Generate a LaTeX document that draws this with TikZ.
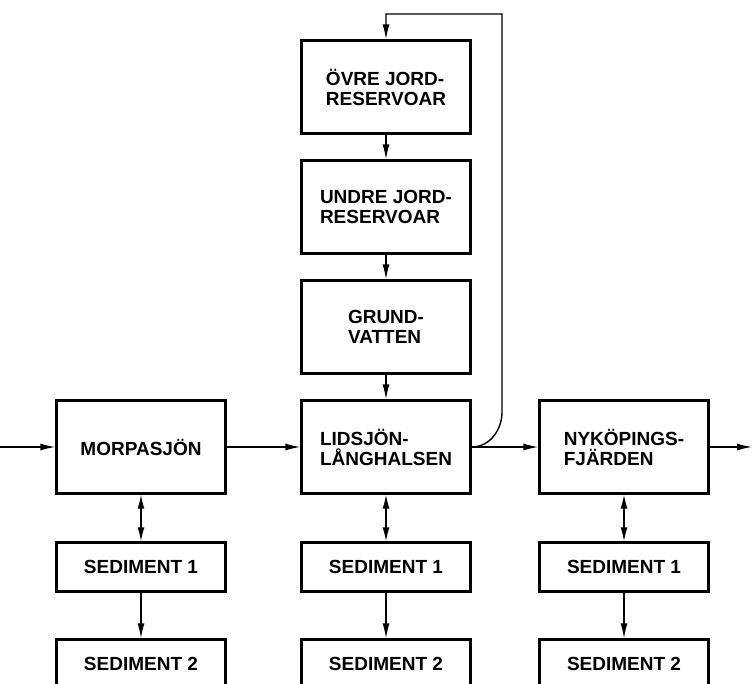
\documentclass[tikz,border=0pt]{standalone}
\usepackage{fontspec}
\setmainfont{Liberation Sans}
\usepackage{xcolor}
\usepackage{tikz}
\usetikzlibrary{arrows.meta}

\begin{document}
\begin{tikzpicture}[x=1pt, y=-1pt,
    every node/.style={font=\fontsize{19}{20}\selectfont\bfseries, align=left},
    box/.style={draw, line width=2.2pt, minimum width=169pt, minimum height=93pt},
    sedbox/.style={draw, line width=2.2pt, minimum width=169pt, minimum height=49pt},
    pil/.style={line width=1.4pt, -{Latex[length=15pt, width=7pt]}},
    dpil/.style={line width=1.4pt, {Latex[length=14pt, width=7pt]}-{Latex[length=14pt, width=7pt]}}]

    \clip (0,0) rectangle (754,684);

    % Jordreservoarer
    \node[box] (ovre) at (386,87) {ÖVRE JORD-\\RESERVOAR};
    \node[box] (undre) at (386,207) {UNDRE JORD-\\RESERVOAR};
    \node[box] (grund) at (386,327) {GRUND-\\VATTEN};

    % Sjoar
    \node[box] (morpa) at (141,447) {MORPASJÖN};
    \node[box] (lids) at (386,447) {LIDSJÖN-\\LÅNGHALSEN};
    \node[box] (nyk) at (624,447) {NYKÖPINGS-\\FJÄRDEN};

    % Sediment
    \node[sedbox] (sed11) at (141,567) {SEDIMENT 1};
    \node[sedbox] (sed21) at (386,567) {SEDIMENT 1};
    \node[sedbox] (sed31) at (624,567) {SEDIMENT 1};
    \node[sedbox] (sed12) at (141,664) {SEDIMENT 2};
    \node[sedbox] (sed22) at (386,664) {SEDIMENT 2};
    \node[sedbox] (sed32) at (624,664) {SEDIMENT 2};

    \coordinate (inn) at (0,447);
    \coordinate (ut) at (752,447);
    \coordinate (fb1) at (502,412);
    \coordinate (fb2) at (502,14);
    \coordinate (fb3) at (ovre.north |- fb2);

    % Pilar
    \draw[pil] (ovre) -- (undre);
    \draw[pil] (undre) -- (grund);
    \draw[pil] (grund) -- (lids);
    \draw[pil] (inn) -- (morpa);
    \draw[pil] (morpa) -- (lids);
    \draw[pil] (lids) -- (nyk);
    \draw[pil] (nyk) -- (ut);
    \draw[pil] (lids.east) to[out=0, in=-90] (fb1) -- (fb2) -- (fb3) -- (ovre.north);

    \draw[dpil] (morpa) -- (sed11);
    \draw[dpil] (lids) -- (sed21);
    \draw[dpil] (nyk) -- (sed31);
    \draw[pil] (sed11) -- (sed12);
    \draw[pil] (sed21) -- (sed22);
    \draw[pil] (sed31) -- (sed32);
\end{tikzpicture}
\end{document}
